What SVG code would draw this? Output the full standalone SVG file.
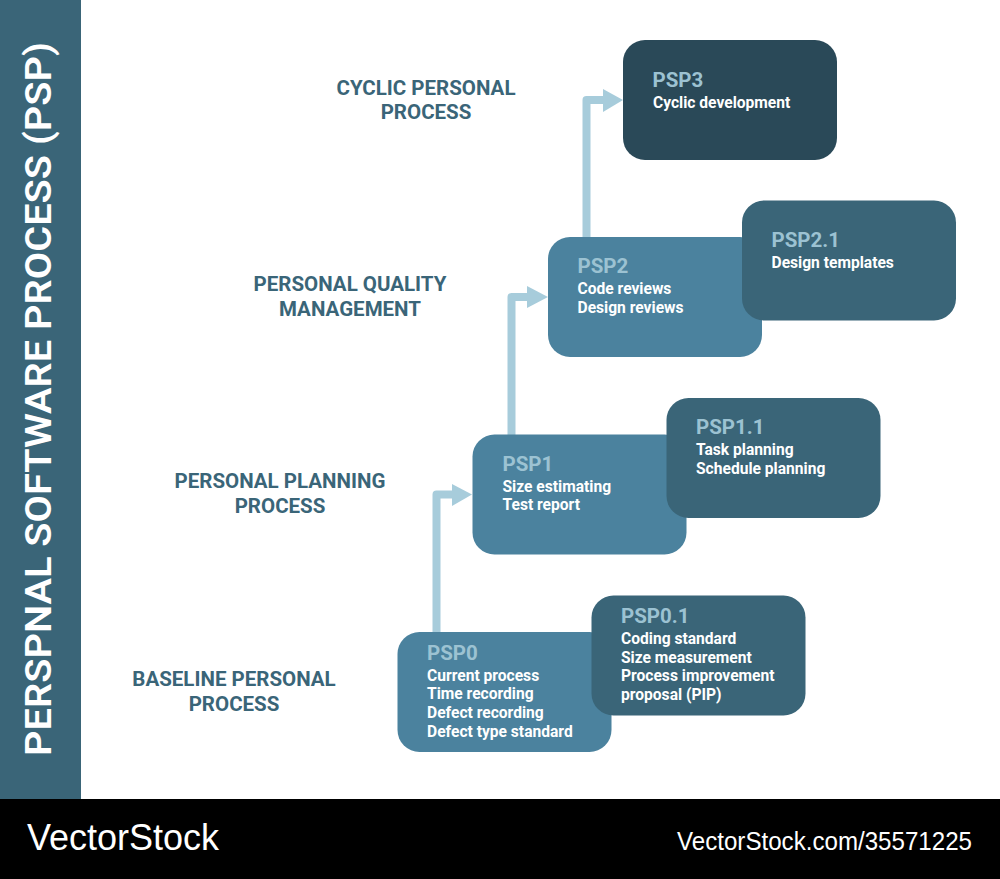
<svg xmlns="http://www.w3.org/2000/svg" width="1000" height="879" viewBox="0 0 1000 879">
<style>
text{font-family:Roboto,"Liberation Sans",sans-serif}
.a{fill:#4b829e}.b{fill:#3a6578}.c{fill:#2a4958}
.h{font-size:20.5px;font-weight:700;fill:#9cc2d2}
.t{font-size:15.6px;font-weight:700;fill:#fff}
.l{font-size:20.5px;font-weight:700;fill:#3a6578;text-anchor:middle}
.w{font-family:"Liberation Sans",sans-serif;fill:#fff}
.k{fill:none;stroke:#a7ccdb;stroke-width:8;stroke-linejoin:round}
.ah{fill:#a7ccdb}
</style>
<rect width="1000" height="879" fill="#fff"/>
<g id="sidebar"><rect width="81" height="799" fill="#3a6578"/>
<text transform="translate(51,756) rotate(-90)" font-size="37.5" font-weight="600" fill="#fff" textLength="714" lengthAdjust="spacingAndGlyphs">PERSPNAL SOFTWARE PROCESS (PSP)</text></g>
<g id="connectors">
<path class="k" d="M436.500 632V494.500H455"/><path class="ah" d="M452 484L472 494.500L452 506z"/>
<path class="k" d="M511.500 435V297H530"/><path class="ah" d="M527 286L548 297L527 308z"/>
<path class="k" d="M586.500 237V100H605"/><path class="ah" d="M603 89L623 100L603 112z"/>
</g>
<g id="psp0"><rect class="a" x="397.500" y="632" width="214" height="120" rx="22"/>
<text class="h" x="427" y="660">PSP0</text><text class="t" x="427" y="680.500">Current process</text><text class="t" x="427" y="699">Time recording</text><text class="t" x="427" y="717.500">Defect recording</text><text class="t" x="427" y="736.500">Defect type standard</text></g>
<g id="psp01"><rect class="b" x="591.500" y="595.500" width="214" height="120" rx="22"/>
<text class="h" x="621" y="623">PSP0.1</text><text class="t" x="621" y="644">Coding standard</text><text class="t" x="621" y="662.500">Size measurement</text><text class="t" x="621" y="681">Process improvement</text><text class="t" x="621" y="700">proposal (PIP)</text></g>
<g id="psp1"><rect class="a" x="472.500" y="434.500" width="214" height="120" rx="22"/>
<text class="h" x="502.500" y="470.500">PSP1</text><text class="t" x="502.500" y="491.500">Size estimating</text><text class="t" x="502.500" y="510">Test report</text></g>
<g id="psp11"><rect class="b" x="666.500" y="398" width="214" height="120" rx="22"/>
<text class="h" x="696" y="434">PSP1.1</text><text class="t" x="696" y="455">Task planning</text><text class="t" x="696" y="473.500">Schedule planning</text></g>
<g id="psp2"><rect class="a" x="548" y="237" width="214" height="120" rx="22"/>
<text class="h" x="577.500" y="273">PSP2</text><text class="t" x="577.500" y="294">Code reviews</text><text class="t" x="577.500" y="312.500">Design reviews</text></g>
<g id="psp21"><rect class="b" x="742" y="200.500" width="214" height="120" rx="22"/>
<text class="h" x="771.500" y="247">PSP2.1</text><text class="t" x="771.500" y="268">Design templates</text></g>
<g id="psp3"><rect class="c" x="623" y="40" width="214" height="120" rx="22"/>
<text class="h" x="652.500" y="87">PSP3</text><text class="t" x="653" y="107.500">Cyclic development</text></g>
<g id="labels">
<text class="l" x="426" y="94.500">CYCLIC PERSONAL</text><text class="l" x="426" y="119">PROCESS</text>
<text class="l" x="350" y="291">PERSONAL QUALITY</text><text class="l" x="350" y="315.500">MANAGEMENT</text>
<text class="l" x="280" y="488">PERSONAL PLANNING</text><text class="l" x="280" y="513">PROCESS</text>
<text class="l" x="234" y="685.500">BASELINE PERSONAL</text><text class="l" x="234" y="710.500">PROCESS</text>
</g>
<g id="footer"><rect y="799" width="1000" height="80" fill="#000"/>
<text class="w" x="27" y="850" font-size="36" textLength="192" lengthAdjust="spacingAndGlyphs">VectorStock</text>
<text class="w" x="677" y="850" font-size="25" textLength="295" lengthAdjust="spacingAndGlyphs">VectorStock.com/35571225</text></g>
</svg>
